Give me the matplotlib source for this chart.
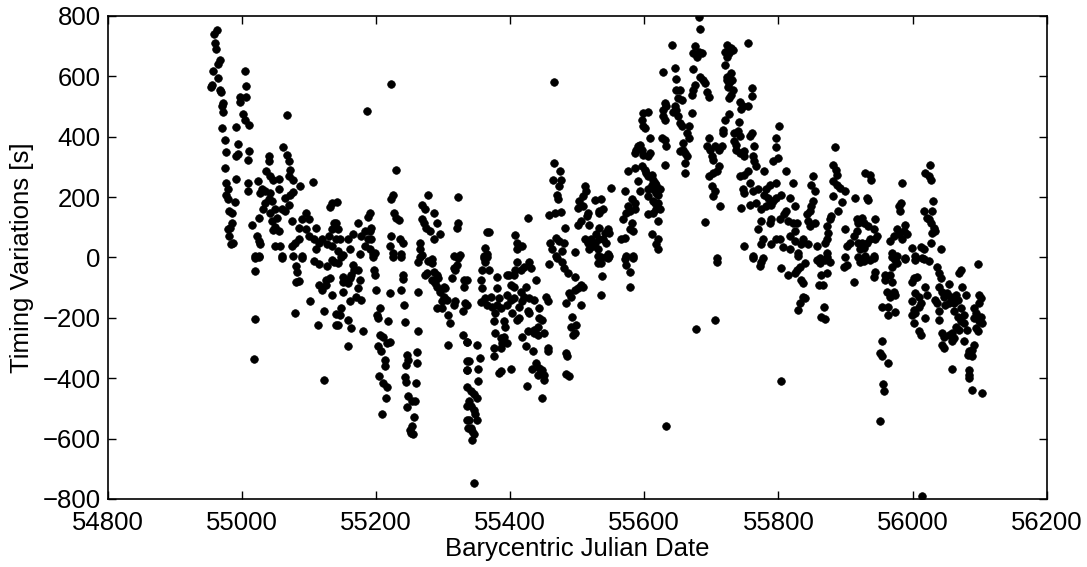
import numpy as np
import matplotlib
matplotlib.use("Agg")
import matplotlib.pyplot as plt

plt.rcParams["font.family"] = ["Liberation Sans", "DejaVu Sans"]

# timing points (BJD, O-C in seconds), grouped by stretch of the light curve
season1 = [
    (54963, 753), (54959, 740), (54960, 709), (54961, 689), (54967, 654), (54965, 641),
    (54957, 619), (54965, 593), (54955, 571), (54954, 564), (54967, 555), (54969, 549),
    (54972, 511), (54971, 500), (54972, 483), (54971, 428), (54975, 390), (54976, 348),
    (54975, 296), (54977, 247), (54979, 225), (54977, 208), (54980, 194), (54990, 183),
    (54981, 153), (54985, 146), (54985, 115), (54982, 98), (54981, 71), (54980, 93),
    (54987, 49), (54984, 43),
    (55005, 618), (55006, 568), (55007, 531), (54997, 531), (54997, 516), (55002, 476),
    (55005, 456), (55011, 439), (54992, 432), (54995, 376), (54995, 344), (54992, 337),
    (55011, 351), (55009, 322), (54991, 260), (55010, 245), (55010, 219), (55015, 109),
    (55022, 71), (55025, 54), (55027, 43), (55020, 5),
    (55067, 472), (55061, 365), (55040, 337), (55040, 318), (55067, 338), (55070, 318),
    (55072, 291), (55036, 285), (55042, 269), (55047, 258), (55055, 260), (55070, 269),
    (55077, 256), (55087, 238), (55106, 249), (55024, 252), (55030, 227), (55035, 219),
    (55042, 214), (55027, 212), (55040, 192), (55045, 186), (55035, 181), (55055, 225),
    (55065, 197), (55072, 208), (55077, 216), (55070, 175), (55032, 159), (55042, 148),
    (55050, 159), (55060, 161), (55065, 154), (55025, 130), (55052, 130), (55045, 119),
    (55050, 102), (55047, 91), (55055, 87), (55075, 119), (55085, 98), (55090, 128),
    (55095, 146), (55100, 128), (55095, 93), (55100, 71), (55110, 98), (55107, 60),
    (55135, 181), (55131, 168), (55137, 115), (55135, 93), (55130, 71), (55120, 62),
    (55115, 49), (55110, 27), (55080, 49), (55085, 60), (55050, 38), (55057, 38),
    (55075, 38), (55090, 5), (55060, 5), (55025, 5), (55127, 43), (55140, 60), (55135, 38),
    (55020, -3), (55025, 2), (55060, -3), (55077, 5), (55090, -3), (55019, -45),
    (55081, -27), (55082, -49), (55081, -80), (55086, -78), (55107, -12), (55115, -23),
    (55127, -30), (55135, -9), (55137, -14), (55115, -91), (55120, -108), (55125, -75),
    (55132, -69), (55125, -91), (55134, -124), (55101, -144), (55019, -203), (55079, -184),
    (55122, -177), (55114, -225), (55140, -188), (55140, -225), (55018, -335), (55122, -407),
]

season2 = [
    (55223, 575), (55187, 486), (55230, 291), (55142, 183), (55226, 208), (55223, 194),
    (55278, 208), (55322, 200), (55191, 148), (55188, 135), (55227, 146), (55230, 131),
    (55235, 124), (55268, 175), (55273, 159), (55286, 148), (55268, 126), (55272, 115),
    (55275, 98), (55281, 87), (55291, 113), (55286, 60), (55296, 76), (55323, 115),
    (55321, 98), (55173, 115), (55141, 115), (55143, 95), (55146, 62), (55158, 60),
    (55166, 76), (55178, 71), (55183, 87), (55191, 87), (55193, 98), (55188, 60),
    (55193, 60), (55183, 38), (55161, 29), (55176, 10), (55191, 27), (55196, 10),
    (55198, 16), (55151, 7), (55143, 21), (55223, 71), (55236, 60), (55241, 49),
    (55221, 38), (55226, 16), (55238, 10), (55265, 47), (55266, 27), (55268, 7),
    (55283, -6), (55316, 5), (55326, 7),
    (55148, 2), (55143, -20), (55151, -64), (55151, -80), (55158, -86), (55161, -69),
    (55166, -25), (55168, -42), (55173, -42), (55163, -58), (55176, -74), (55151, -113),
    (55173, -102), (55171, -130), (55178, -141), (55161, -146), (55148, -168), (55146, -190),
    (55143, -223), (55158, -207), (55163, -234), (55180, -243), (55158, -295),
    (55196, 2), (55197, -42), (55198, -58), (55200, -108), (55221, -119), (55206, -168),
    (55201, -190), (55203, -201), (55218, -210), (55206, -256), (55211, -262), (55203, -295),
    (55208, -311), (55216, -284), (55221, -280), (55213, -339), (55213, -361), (55205, -394),
    (55211, -416), (55216, -430), (55215, -465), (55209, -517),
    (55226, 2), (55238, 2), (55241, -58), (55241, -71), (55238, -108), (55242, -159),
    (55243, -215), (55263, -116), (55262, -245), (55246, -322), (55248, -339), (55245, -355),
    (55261, -313), (55261, -350), (55243, -397), (55245, -413), (55259, -416), (55248, -460),
    (55253, -476), (55258, -474), (55247, -496), (55257, -529), (55253, -559), (55251, -570),
    (55255, -584), (55252, -580),
    (55263, -14), (55266, 2), (55278, -12), (55283, -20), (55276, -53), (55273, -58),
    (55286, -47), (55291, -58), (55283, -74), (55288, -86), (55291, -97), (55293, -69),
    (55301, -97), (55296, -113), (55303, -102), (55301, -130), (55298, -146), (55291, -168),
    (55298, -168), (55306, -141), (55308, -190), (55311, -218), (55316, -157), (55318, -146),
    (55313, -69), (55318, -42), (55321, -25), (55323, -3), (55316, -36), (55331, -74),
    (55331, -97), (55333, -152), (55330, -179), (55330, -256), (55335, -280), (55308, -289),
    (55336, -342), (55336, -372), (55335, -430), (55336, -493), (55336, -537), (55337, -564),
]

season3 = [
    (55465, 580), (55466, 313), (55475, 285), (55464, 258), (55476, 256), (55473, 236),
    (55470, 208), (55471, 192), (55458, 139), (55467, 146), (55476, 150), (55427, 131),
    (55366, 84), (55368, 84), (55408, 73), (55411, 49), (55418, 38), (55411, 27),
    (55363, 32), (55366, 10), (55361, 5), (55460, 49), (55463, 29), (55468, 65),
    (55473, 54), (55481, 49), (55478, 21), (55468, 5), (55496, 18), (55482, 96),
    (55501, 109), (55506, 120), (55514, 137), (55516, 148), (55518, 109),
    (55511, 236), (55513, 219), (55508, 203), (55503, 186), (55508, 170), (55501, 164),
    (55526, 190), (55533, 148), (55511, 60), (55516, 49), (55521, 60), (55526, 49),
    (55528, 76), (55523, 38), (55531, 27), (55518, 27),
    (55336, -75), (55336, -157), (55336, -281), (55338, -344), (55336, -372), (55351, -289),
    (55355, -333), (55352, -368), (55352, -408), (55341, -443), (55346, -454), (55351, -467),
    (55338, -476), (55341, -493), (55346, -504), (55348, -520), (55338, -537), (55351, -537),
    (55341, -564), (55343, -575), (55346, -586), (55343, -606), (55346, -746),
    (55361, -3), (55366, 2), (55363, -14), (55358, -42), (55368, -42), (55356, -75),
    (55358, -102), (55356, -149), (55363, -133), (55366, -157), (55371, -130), (55373, -163),
    (55381, -64), (55381, -102), (55383, -135), (55381, -157), (55386, -168), (55378, -185),
    (55376, -212), (55391, -212), (55393, -229), (55378, -251), (55386, -267), (55391, -262),
    (55396, -284), (55388, -284), (55386, -300), (55376, -300), (55376, -328), (55386, -375),
    (55383, -383), (55401, -368), (55396, -58), (55398, -58), (55406, -58), (55411, -16),
    (55408, -42), (55416, -42), (55421, -31), (55428, -14), (55431, -36), (55406, -97),
    (55401, -91), (55396, -124), (55401, -141), (55406, -135), (55396, -157), (55403, -185),
    (55413, -201), (55411, -207), (55416, -113), (55423, -97), (55421, -130), (55418, -146),
    (55413, -163), (55428, -135), (55436, -141), (55426, -179), (55428, -185), (55438, -75),
    (55426, -245), (55418, -262), (55441, -229), (55436, -240), (55443, -201), (55448, -207),
    (55443, -168), (55451, -251), (55441, -256), (55436, -251), (55423, -295), (55434, -309),
    (55456, -300), (55456, -311), (55438, -350), (55433, -368), (55443, -366), (55448, -372),
    (55451, -388), (55441, -388), (55451, -405), (55425, -427), (55447, -467), (55458, -23),
    (55453, -130), (55456, -146), (55470, -3), (55478, -14), (55481, -36), (55486, -53),
    (55496, -64), (55488, -119), (55491, -130), (55496, -108), (55501, -102), (55506, -91),
    (55508, -97), (55483, -152), (55506, -157), (55492, -196), (55491, -232), (55498, -225),
    (55496, -251), (55493, -256), (55483, -317), (55485, -328), (55483, -386), (55488, -394),
    (55531, -20),
]

season4 = [
    (55681, 797), (55683, 755), (55642, 703), (55676, 700), (55681, 681), (55673, 676),
    (55686, 676), (55678, 665), (55723, 703), (55721, 681), (55723, 665), (55628, 615),
    (55646, 626), (55647, 591), (55672, 623), (55683, 599), (55688, 588), (55691, 577),
    (55721, 637), (55723, 599), (55725, 566), (55723, 588), (55676, 571), (55673, 555),
    (55671, 538), (55648, 555), (55653, 555), (55651, 527), (55656, 522), (55693, 549),
    (55696, 531), (55631, 511), (55633, 500), (55628, 489), (55646, 500), (55648, 489),
    (55643, 483), (55651, 467), (55653, 445), (55656, 434), (55666, 434), (55671, 478),
    (55663, 412), (55666, 395), (55658, 379), (55628, 467), (55631, 456), (55658, 357),
    (55661, 346), (55663, 335), (55661, 313), (55660, 280), (55653, 351), (55631, 390),
    (55633, 368), (55626, 395), (55631, 307),
    (55598, 478), (55606, 480), (55596, 456), (55598, 434), (55601, 428), (55608, 395),
    (55591, 368), (55593, 373), (55588, 357), (55586, 346), (55596, 357), (55598, 340),
    (55608, 346), (55606, 335), (55586, 296), (55576, 285), (55596, 302), (55601, 291),
    (55603, 280), (55606, 269), (55611, 274), (55613, 258), (55616, 247), (55618, 241),
    (55591, 252), (55611, 241), (55606, 225), (55613, 225), (55623, 225), (55621, 208),
    (55618, 214), (55551, 230), (55571, 219), (55593, 219), (55606, 203), (55613, 186),
    (55616, 181), (55621, 181), (55618, 159), (55623, 159), (55613, 148), (55606, 143),
    (55621, 120), (55535, 192), (55538, 159), (55533, 153), (55581, 192), (55586, 181),
    (55576, 170), (55578, 153), (55586, 159), (55573, 148), (55581, 115), (55568, 126),
    (55578, 93), (55583, 87), (55571, 65), (55566, 60), (55611, 76), (55620, 60),
    (55618, 43), (55620, 29), (55546, 93), (55548, 82), (55541, 82), (55533, 98),
    (55533, 60), (55538, 60), (55543, 49), (55548, 5), (55573, 5), (55583, 5),
    (55546, 10), (55531, 5),
    (55690, 118), (55713, 170), (55696, 395), (55693, 370), (55698, 357), (55701, 335),
    (55703, 324), (55706, 368), (55711, 357), (55716, 368), (55718, 412), (55717, 423),
    (55720, 456), (55696, 269), (55703, 280), (55708, 285), (55711, 302), (55701, 236),
    (55706, 219), (55703, 203), (55708, -1),
    (55536, 2), (55546, -3), (55543, 2), (55535, -20), (55537, -60), (55536, -124),
    (55572, -5), (55573, -25), (55578, -47), (55583, -1), (55578, -97),
    (55708, -14), (55706, -207), (55677, -238), (55632, -560),
]

season5 = [
    (55754, 709), (55730, 692), (55732, 687), (55727, 676), (55730, 610), (55731, 588),
    (55727, 577), (55732, 555), (55730, 538), (55727, 527), (55760, 560), (55760, 535),
    (55754, 500), (55742, 516), (55744, 491), (55747, 500), (55727, 476), (55741, 450),
    (55740, 418), (55734, 412), (55742, 401), (55734, 384), (55737, 373), (55737, 357),
    (55742, 346), (55749, 351), (55749, 335), (55760, 412), (55757, 403), (55764, 368),
    (55762, 335), (55764, 318), (55766, 304), (55801, 434), (55796, 395), (55796, 366),
    (55799, 329), (55792, 318), (55811, 285), (55779, 285), (55754, 285), (55749, 274),
    (55742, 271), (55757, 247), (55747, 225), (55749, 214), (55762, 219), (55769, 225),
    (55767, 181), (55757, 172), (55744, 165), (55774, 159),
    (55782, 225), (55787, 241), (55797, 247), (55779, 208), (55784, 197), (55787, 181),
    (55792, 186), (55797, 197), (55804, 208), (55782, 170), (55789, 175), (55822, 247),
    (55817, 197), (55824, 170), (55812, 153), (55809, 143), (55802, 126), (55814, 120),
    (55789, 126), (55787, 115), (55774, 120), (55769, 93), (55822, 115), (55827, 115),
    (55851, 269), (55849, 241), (55854, 219), (55852, 186), (55849, 170), (55847, 153),
    (55843, 143), (55844, 120), (55854, 115), (55847, 104),
    (55884, 366), (55882, 307), (55886, 291), (55887, 274), (55882, 252), (55887, 241),
    (55892, 230), (55899, 219), (55882, 203), (55894, 183), (55889, 153), (55879, 137),
    (55877, 126), (55914, 197), (55917, 126), (55919, 115), (55899, 93), (55917, 87),
    (55912, 71), (55907, 49), (55919, 49), (55922, 27), (55902, 38), (55872, 104),
    (55874, 82), (55872, 60), (55869, 49),
    (55824, 87), (55817, 71), (55824, 54), (55837, 60), (55844, 43), (55857, 38),
    (55834, 43), (55829, 16), (55817, 27), (55807, 36), (55802, 60), (55797, 60),
    (55789, 43), (55777, 60), (55774, 43), (55749, 38), (55762, 5), (55777, -1),
    (55862, -1), (55872, 16),
    (55762, -3), (55774, -14), (55772, -27), (55804, -36), (55814, -58), (55824, -53),
    (55827, -42), (55832, -31), (55839, -20), (55834, -75), (55837, -86), (55829, 5),
    (55857, -9), (55862, -20), (55869, -9), (55877, -14), (55872, 2), (55899, 2),
    (55902, -25), (55897, -31), (55919, 2), (55922, -14), (55912, -80), (55864, -58),
    (55872, -53), (55861, -93), (55866, -91), (55837, -130), (55839, -135), (55832, -152),
    (55829, -174), (55868, -163), (55864, -196), (55869, -203), (55804, -408),
]

season6 = [
    (56026, 307), (56019, 280), (56024, 269), (56027, 258), (55929, 280), (55937, 274),
    (55938, 258), (55984, 247), (55932, 197), (55934, 190), (55982, 181), (55979, 170),
    (55981, 153), (56031, 186), (56017, 153), (56029, 153), (56022, 131), (56027, 115),
    (56032, 98), (56034, 87), (56029, 82), (56024, 126),
    (55944, 126), (55924, 131), (55927, 115), (55934, 104), (55942, 93), (55947, 71),
    (55944, 60), (55937, 60), (55932, 49), (55924, 49), (55927, 32), (55942, 5),
    (55929, 5), (55989, 109), (55987, 87), (55977, 93), (55979, 76), (55984, 60),
    (55992, 76), (55972, 71), (55967, 54), (55969, 16), (55977, 5), (55989, -1),
    (55999, 32), (56012, 36), (56017, 27), (56004, 5), (56014, -1), (56028, 49),
    (56042, 29),
    (55927, -12), (55937, -9), (55942, -3), (55969, 2), (55974, -9), (55969, -31),
    (55977, -20), (55989, -5), (56004, -9), (56017, -5), (56024, -12), (56037, -31),
    (56039, -53), (56042, -69), (55944, -47), (55942, -64), (55959, -58), (55967, -58),
    (55959, -75), (55969, -80), (55962, -113), (55967, -130), (55974, -124), (55972, -113),
    (55999, -80), (56007, -64), (56002, -69), (56019, -97), (56039, -97), (56004, -119),
    (56022, -124), (56009, -130), (56012, -152), (55999, -146), (56002, -174), (56009, -163),
    (55999, -190), (56004, -185), (56019, -201), (56034, -141), (56037, -152), (56039, -179),
    (56052, -119), (56054, -89), (56047, -130), (56044, -113), (56057, -130), (56059, -141),
    (56054, -152), (56049, -157), (56062, -152), (56067, -141), (56064, -124), (56074, -97),
    (56072, -42), (56069, -53), (56079, -124), (56072, -168), (56077, -190), (56062, -179),
    (56067, -196), (56072, -212), (56064, -229), (56069, -240), (56059, -251), (56062, -267),
    (56054, -256), (56044, -251), (56047, -262), (56039, -207), (56044, -289), (56047, -300),
    (56059, -278), (56077, -278), (56081, -240), (56077, -218), (56092, -168), (56094, -185),
    (56092, -201), (56094, -234), (56097, -245), (56099, -212), (56102, -196), (56104, -218),
    (56099, -152), (56099, -124), (56102, -135), (56097, -23), (56092, -289), (56089, -306),
    (56084, -311), (56089, -328), (56082, -322), (56084, -372), (56084, -388), (56084, -399),
    (56089, -438), (56103, -449), (56058, -368), (55954, -276), (55952, -317), (55954, -328),
    (55963, -350), (55956, -419), (55957, -441), (55951, -542), (56002, -218), (56009, -245),
    (56013, -256), (55954, -163), (55964, -163), (55964, -190), (55974, -181), (56014, -790),
]

x_ticks = [54800, 55000, 55200, 55400, 55600, 55800, 56000, 56200]
y_ticks = [-800, -600, -400, -200, 0, 200, 400, 600, 800]

points = np.array(season1 + season2 + season3 + season4 + season5 + season6, dtype=float)
bjd, ttv = points[:, 0], points[:, 1]

fig = plt.figure(figsize=(10.87, 5.67), dpi=100)
ax = fig.add_axes([0.099, 0.12, 0.864, 0.852])

ax.plot(bjd, ttv, 'o', color='black', markersize=5.5, markeredgecolor='black',
        markeredgewidth=0.5, linestyle='none')

ax.set_xlim(54800, 56200)
ax.set_ylim(-800, 800)
ax.set_xticks(x_ticks)
ax.set_yticks(y_ticks)
ax.xaxis.get_major_formatter().set_useOffset(False)

ax.tick_params(direction='in', length=6, width=1, top=True, right=True,
               labelsize=18.5)
ax.tick_params(axis='x', pad=9)
ax.tick_params(axis='y', pad=5)
for s in ax.spines.values():
    s.set_linewidth(1.2)

ax.set_xlabel("Barycentric Julian Date", fontsize=18.5, labelpad=1)
ax.set_ylabel("Timing Variations [s]", fontsize=18.5, labelpad=6)

fig.savefig("out.png", dpi=100)
